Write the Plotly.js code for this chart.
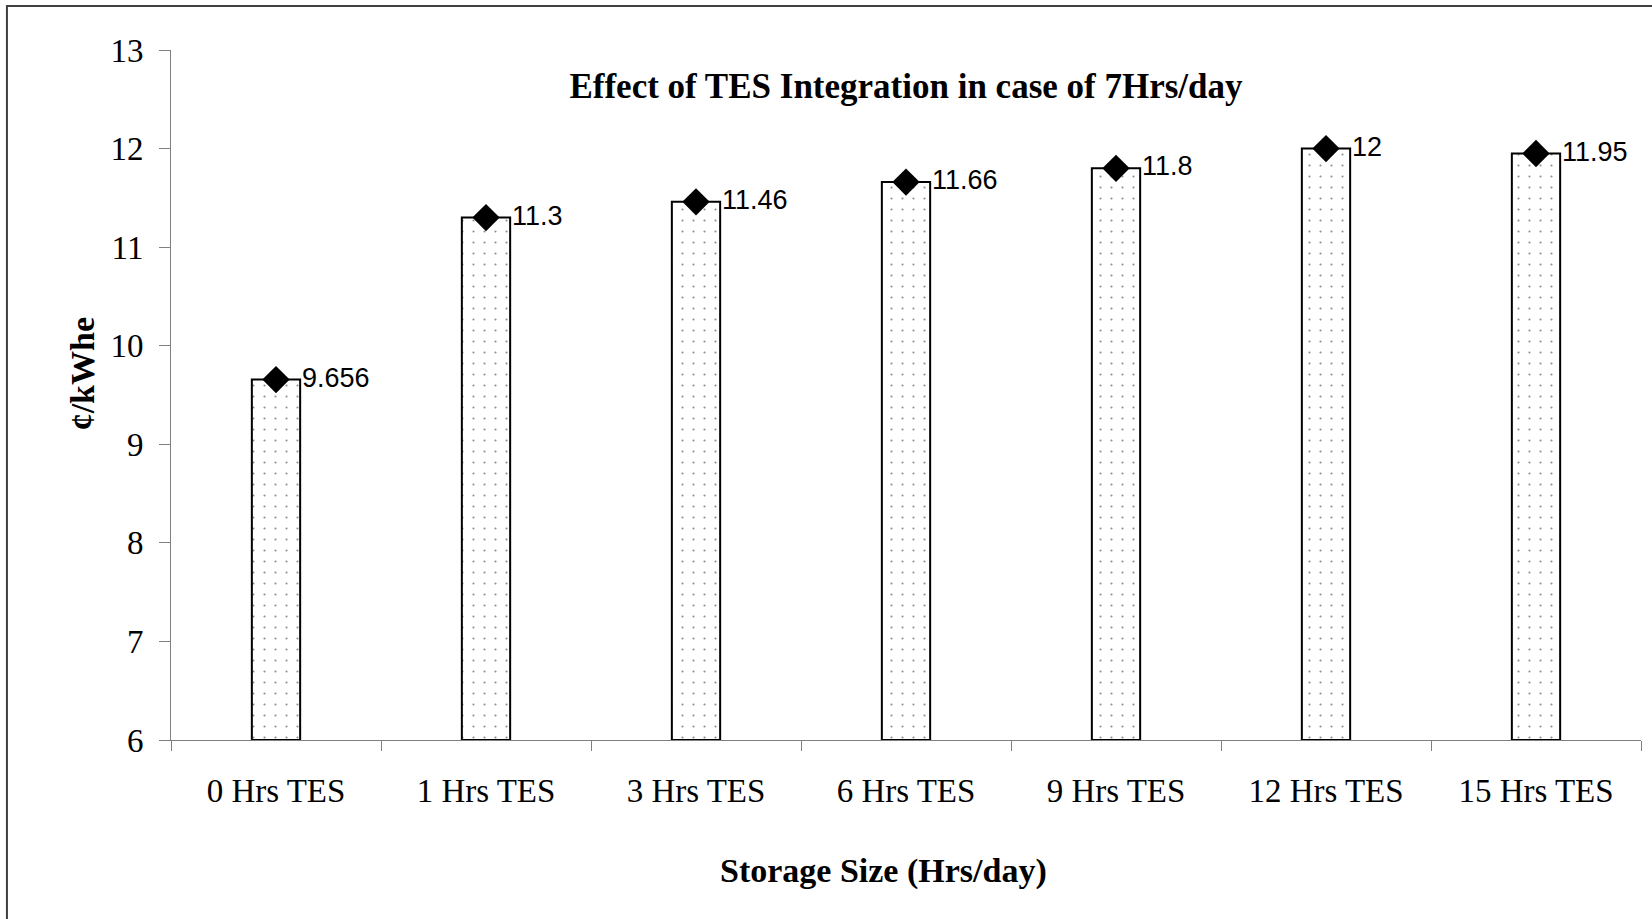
<!DOCTYPE html>
<html>
<head>
<meta charset="utf-8">
<script src="https://cdn.plot.ly/plotly-3.0.1.min.js"></script>
<style>
html,body{margin:0;padding:0;background:#fff;}
#chart{width:1652px;height:919px;}
</style>
</head>
<body>
<div id="chart"></div>
<script>
var categories = ["0 Hrs TES", "1 Hrs TES", "3 Hrs TES", "6 Hrs TES", "9 Hrs TES", "12 Hrs TES", "15 Hrs TES"];
var costValues = [9.656, 11.3, 11.46, 11.66, 11.8, 12, 11.95];
var yTickValues = [6, 7, 8, 9, 10, 11, 12, 13];
var chartTitle = "Effect of TES Integration in case of 7Hrs/day";
var xTitle = "Storage Size (Hrs/day)";
var yTitle = "¢/kWhe";

var axisBase = 6;

var barTrace = {
  type: "bar",
  x: categories,
  y: costValues.map(function (v) { return v - axisBase; }),
  base: axisBase,
  width: 0.23,
  marker: {
    color: "#ffffff",
    line: {color: "#000000", width: 2},
    pattern: {shape: ".", size: 11, solidity: 0.03, fgcolor: "#8c8c8c", bgcolor: "#ffffff", fillmode: "replace"}
  },
  hoverinfo: "skip",
  showlegend: false
};

var pointTrace = {
  type: "scatter",
  mode: "markers",
  x: categories,
  y: costValues,
  marker: {symbol: "diamond", size: 21, color: "#000000", line: {width: 0}},
  showlegend: false
};

var labelAnnotations = categories.map(function (c, i) {
  return {
    x: c, y: costValues[i], xref: "x", yref: "y",
    text: String(costValues[i]),
    showarrow: false, xanchor: "left", yanchor: "middle",
    xshift: 24, yshift: 2,
    font: {family: "Liberation Sans, Arial, sans-serif", size: 27, color: "#000000"}
  };
});

var serif = "Liberation Serif, Times New Roman, serif";

var layout = {
  width: 1652, height: 919,
  margin: {l: 171, r: 11, t: 50, b: 179, pad: 0},
  paper_bgcolor: "#ffffff",
  plot_bgcolor: "#ffffff",
  title: {
    text: "<b>" + chartTitle + "</b>",
    font: {family: serif, size: 35, color: "#000000"},
    x: 0.5, xref: "paper", xanchor: "center",
    y: 0.948, yref: "paper", yanchor: "middle"
  },
  xaxis: {
    type: "category",
    showline: true, linecolor: "#808080", linewidth: 1,
    ticks: "outside", tickson: "boundaries", ticklen: 10, tickcolor: "#808080", tickwidth: 1,
    tickfont: {family: serif, size: 33, color: "#000000"},
    ticklabelstandoff: 21,
    showgrid: false, zeroline: false,
    range: [-0.5, 6.5]
  },
  yaxis: {
    range: [6, 13],
    tickvals: yTickValues,
    ticktext: yTickValues.map(String),
    showline: true, linecolor: "#808080", linewidth: 1,
    ticks: "outside", ticklen: 11, tickcolor: "#808080", tickwidth: 1,
    tickfont: {family: serif, size: 33, color: "#000000"},
    ticklabelstandoff: 9,
    showgrid: false, zeroline: false
  },
  annotations: labelAnnotations.concat([
    {
      text: "<b>" + xTitle + "</b>", xref: "paper", yref: "paper",
      x: 0.485, y: -0.19, xanchor: "center", yanchor: "middle", showarrow: false,
      font: {family: serif, size: 34, color: "#000000"}
    },
    {
      text: "<b>" + yTitle + "</b>", xref: "paper", yref: "paper",
      x: -0.0605, y: 0.53, xanchor: "center", yanchor: "middle", showarrow: false, textangle: -90,
      font: {family: serif, size: 34, color: "#000000"}
    }
  ]),
  shapes: [
    {
      type: "rect", xref: "paper", yref: "paper",
      x0: -0.1116, x1: 1.2, y0: -0.5, y1: 1.0638,
      line: {color: "#404040", width: 2}, fillcolor: "rgba(0,0,0,0)", layer: "below"
    }
  ]
};

Plotly.newPlot("chart", [barTrace, pointTrace], layout, {displayModeBar: false, staticPlot: true});
</script>
</body>
</html>
